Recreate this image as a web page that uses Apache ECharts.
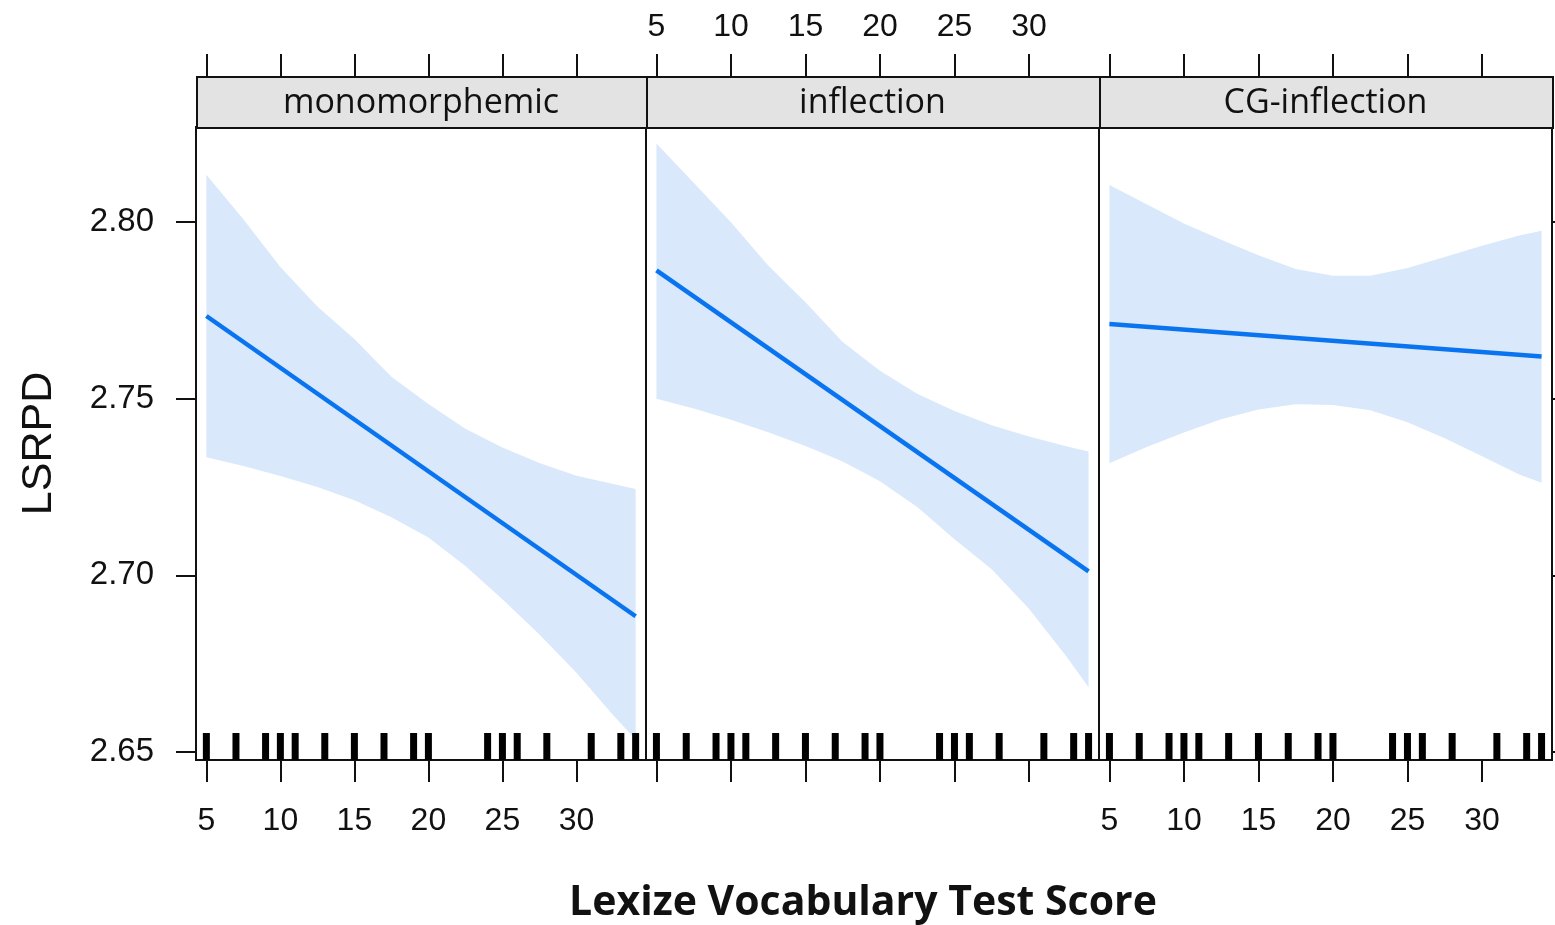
<!DOCTYPE html>
<html><head><meta charset="utf-8">
<script src="https://cdn.jsdelivr.net/npm/echarts@6/dist/echarts.min.js"></script>
<style>html,body{margin:0;padding:0;background:#fff}#c{width:1555px;height:925px}</style>
</head><body><div id="c"></div>
<script>
// ---- data ----
const panels = ['monomorphemic', 'inflection', 'CG-inflection'];
const xTicks = [5, 10, 15, 20, 25, 30];
const yTicks = [2.65, 2.70, 2.75, 2.80];
const fitX = [5, 34];
const fitMono = [2.7734, 2.6884];
const fitInfl = [2.7863, 2.7011];
const fitCG = [2.7711, 2.7619];
const bandX = [5, 7.5, 10, 12.5, 15, 17.5, 20, 22.5, 25, 27.5, 30, 32.5, 34];
const upperMono = [2.8134, 2.8008, 2.7873, 2.7761, 2.7669, 2.7562, 2.7485, 2.7415, 2.7362, 2.7318, 2.7282, 2.7258, 2.7244];
const lowerMono = [2.7334, 2.7309, 2.7281, 2.7250, 2.7212, 2.7164, 2.7107, 2.7026, 2.6932, 2.6832, 2.6724, 2.6603, 2.6535];
const upperInfl = [2.8222, 2.8111, 2.7999, 2.7877, 2.7773, 2.7660, 2.7579, 2.7514, 2.7465, 2.7425, 2.7393, 2.7365, 2.7350];
const lowerInfl = [2.7500, 2.7472, 2.7440, 2.7405, 2.7366, 2.7322, 2.7266, 2.7193, 2.7102, 2.7017, 2.6905, 2.6771, 2.6683];
const upperCG = [2.8105, 2.8050, 2.7996, 2.7950, 2.7906, 2.7867, 2.7848, 2.7848, 2.7870, 2.7901, 2.7933, 2.7962, 2.7975];
const lowerCG = [2.7317, 2.7363, 2.7404, 2.7442, 2.7469, 2.7484, 2.7482, 2.7467, 2.7433, 2.7388, 2.7337, 2.7285, 2.7262];
const rugX = [5, 7, 9, 10, 11, 13, 15, 17, 19, 20, 24, 25, 26, 28, 31, 33, 34];

const fits = [fitMono, fitInfl, fitCG];
const uppers = [upperMono, upperInfl, upperCG];
const lowers = [lowerMono, lowerInfl, lowerCG];

// ---- layout / style ----
const X_MIN = 4.3, X_MAX = 34.7, Y_MIN = 2.6477, Y_MAX = 2.8269;
const gridLefts = [196, 646, 1099];
const gridWidths = [450, 453, 453];
const GRID_TOP = 127, GRID_H = 633;
const STRIP_TOP = 76, STRIP_H = 51;
const BAND = '#d9e9fb', LINE = '#0a74f0', INK = '#111';
const tickFont = 'Liberation Sans';

const grid = [], xAxis = [], yAxis = [], series = [], graphic = [];
panels.forEach((name, i) => {
  grid.push({left: gridLefts[i], top: GRID_TOP, width: gridWidths[i], height: GRID_H,
    outerBoundsMode: 'none', containLabel: false,
    show: true, borderColor: INK, borderWidth: 2, backgroundColor: 'transparent'});
  xAxis.push({gridIndex: i, type: 'value', min: X_MIN, max: X_MAX, position: 'bottom',
    axisLine: {show: false}, splitLine: {show: false},
    axisTick: {show: true, customValues: xTicks, length: 22, lineStyle: {color: INK, width: 2}},
    axisLabel: {show: i !== 1, customValues: xTicks, margin: 45, fontSize: 32, fontFamily: tickFont, color: INK}});
  xAxis.push({gridIndex: i, type: 'value', min: X_MIN, max: X_MAX, position: 'top', offset: GRID_TOP - STRIP_TOP,
    axisLine: {show: false}, splitLine: {show: false},
    axisTick: {show: true, customValues: xTicks, length: 22, lineStyle: {color: INK, width: 2}},
    axisLabel: {show: i === 1, customValues: xTicks, margin: 33, fontSize: 32, fontFamily: tickFont, color: INK}});
  const ya = {gridIndex: i, type: 'value', min: Y_MIN, max: Y_MAX,
    position: i === 2 ? 'right' : 'left',
    axisLine: {show: false}, splitLine: {show: false},
    axisTick: {show: i !== 1, customValues: yTicks, length: 20, lineStyle: {color: INK, width: 2}},
    axisLabel: {show: i === 0, customValues: yTicks, margin: 42, fontSize: 33, fontFamily: tickFont, color: INK,
      formatter: v => v.toFixed(2)}};
  if (i === 0) {
    Object.assign(ya, {name: 'LSRPD', nameLocation: 'middle', nameGap: 135, nameRotate: 90, nameMoveOverlap: false,
      nameTextStyle: {fontSize: 43, fontFamily: tickFont, color: INK}});
  }
  yAxis.push(ya);

  const lo = lowers[i], up = uppers[i];
  series.push({type: 'custom', xAxisIndex: 2 * i, yAxisIndex: i, silent: true, z: 1,
    data: [[bandX[0], lo[0]]],
    renderItem: (params, api) => {
      const top = bandX.map((x, k) => api.coord([x, up[k]]));
      const bot = bandX.map((x, k) => api.coord([x, lo[k]])).reverse();
      return {type: 'polygon', shape: {points: top.concat(bot)}, style: {fill: BAND}};
    }});
  series.push({type: 'line', xAxisIndex: 2 * i, yAxisIndex: i, symbol: 'none', silent: true,
    lineStyle: {color: LINE, width: 4.5}, data: fitX.map((x, k) => [x, fits[i][k]]), z: 3});
  series.push({type: 'scatter', xAxisIndex: 2 * i, yAxisIndex: i, symbol: 'rect', symbolSize: [7, 27],
    symbolOffset: [0, '-50%'], silent: true, itemStyle: {color: '#000', opacity: 1},
    data: rugX.map(x => [x, Y_MIN]), z: 4});

  graphic.push({type: 'rect', left: gridLefts[i], top: STRIP_TOP,
    shape: {width: gridWidths[i], height: STRIP_H},
    style: {fill: '#e3e3e3', stroke: INK, lineWidth: 2}, z: 10});
  graphic.push({type: 'text', x: gridLefts[i] + gridWidths[i] / 2, y: STRIP_TOP + STRIP_H / 2 + 2, z: 11,
    style: {text: name, align: 'center', verticalAlign: 'middle', fontSize: 34, fontFamily: 'Open Sans', fill: INK}});
});
graphic.push({type: 'text', x: 863, y: 903, z: 11,
  style: {text: 'Lexize Vocabulary Test Score', align: 'center', verticalAlign: 'middle',
    fontSize: 41, fontWeight: 'bold', fontFamily: 'Open Sans', fill: INK}});

const chart = echarts.init(document.getElementById('c'), null, {renderer: 'canvas'});
chart.setOption({animation: false, grid, xAxis, yAxis, series, graphic});
</script></body></html>
